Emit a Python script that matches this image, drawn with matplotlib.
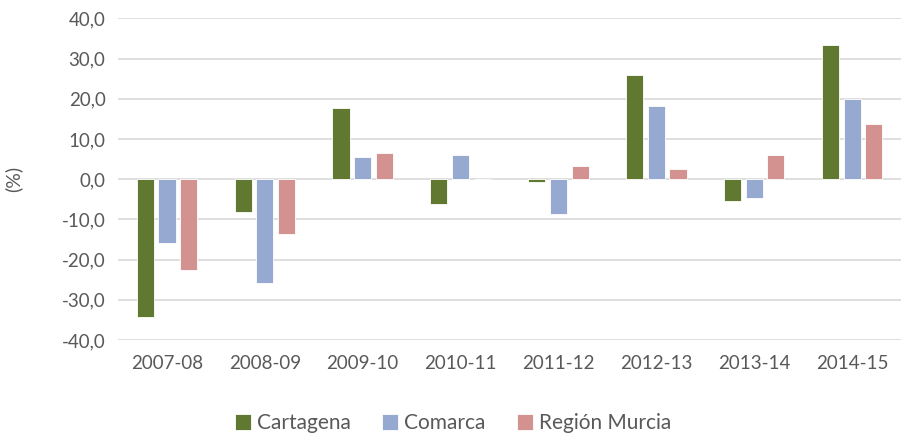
import numpy as np
import matplotlib.pyplot as plt

# datos (%)
periodos = ["2007-08", "2008-09", "2009-10", "2010-11", "2011-12", "2012-13", "2013-14", "2014-15"]
cartagena = [-34.3, -8.1, 17.8, -6.1, -0.7, 25.8, -5.5, 33.4]
comarca = [-15.8, -25.7, 5.5, 6.1, -8.7, 18.1, -4.7, 20.0]
region_murcia = [-22.5, -13.6, 6.5, 0.0, 3.3, 2.5, 6.1, 13.8]

series = [("Cartagena", cartagena, "#617830"),
          ("Comarca", comarca, "#95A9D1"),
          ("Región Murcia", region_murcia, "#D39190")]

plt.rcParams['font.family'] = ['Lato', 'DejaVu Sans']
gris = "#595959"

fig = plt.figure(figsize=(9.01, 4.41), dpi=100)
ax = fig.add_axes([0.131, 0.229, 0.869, 0.7295])

x = np.arange(len(periodos))
ancho = 0.175
paso = 0.222
for i, (nombre, valores, color) in enumerate(series):
    ax.bar(x + (i - 1) * paso, valores, width=ancho, color=color,
           edgecolor="white", linewidth=0.6, label=nombre, zorder=3)

ax.set_xlim(-0.5, len(periodos) - 0.5)
ax.set_ylim(-40, 40)
ax.set_yticks(np.arange(-40, 41, 10))
ax.set_yticklabels([f"{v:.1f}".replace(".", ",") for v in np.arange(-40, 41, 10)])
ax.set_xticks(x)
ax.set_xticklabels(periodos)
ax.tick_params(axis="both", length=0, labelsize=13.5, colors=gris, pad=9)
ax.tick_params(axis="x", pad=11)
ax.grid(axis="y", color="#D9D9D9", linewidth=1.2, zorder=0)
for s in ax.spines.values():
    s.set_visible(False)
ax.set_ylabel("(%)", fontsize=14, color=gris)
ax.yaxis.set_label_coords(-0.122, 0.5)

fig.legend(loc="lower center", bbox_to_anchor=(0.503, -0.025), ncol=3, frameon=False,
           fontsize=15, labelcolor=gris, handlelength=0.75, handleheight=0.75,
           handletextpad=0.3, columnspacing=1.5)

fig.savefig("out.png", dpi=100)
